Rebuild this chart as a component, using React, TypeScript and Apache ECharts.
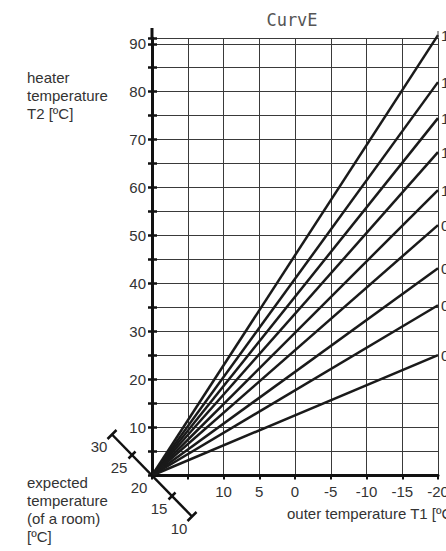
import React, { useEffect, useRef } from "react";
import * as echarts from "echarts";

// ---- data ----
const outerMin = -20;
const outerMax = 20;
const outerStep = 5;
const heaterMin = 0;
const heaterMax = 91.2;
const heaterStep = 5;
const curveNames = ["1.8", "1.6", "1.4", "1.2", "1.0", "0.8", "0.6", "0.4", "0.2"];
const curveStartT1 = 20;
const curveStartT2 = 0;
const curveEndT1 = -20;
const curveEndT2 = [91.8, 82.0, 74.5, 67.4, 59.5, 52.2, 43.2, 35.5, 25.1];
const roomTicks = [30, 25, 20, 15, 10];
const roomBase = 20;

const FONT = "'Liberation Sans', Arial, sans-serif";
const TXT = "#333333";

export default function App() {
  const ref = useRef<HTMLDivElement>(null);

  useEffect(() => {
    if (!ref.current) return;
    const chart = echarts.init(ref.current, undefined, { renderer: "svg" });

    const series = curveNames.map((name, i) => ({
      name,
      type: "line",
      data: [
        [curveStartT1, curveStartT2],
        [curveEndT1, curveEndT2[i]],
      ],
      symbol: "none",
      clip: false,
      lineStyle: { color: "#1a1a1a", width: 2.5 },
      z: 5,
    }));

    const option: any = {
      animation: false,
      backgroundColor: "#ffffff",
      grid: {
        left: 152,
        right: 8,
        top: 38,
        bottom: 75.5,
        containLabel: false,
        outerBoundsMode: "none",
      },
      xAxis: {
        type: "value",
        min: outerMin,
        max: outerMax,
        interval: outerStep,
        inverse: true,
        axisLine: { show: true, onZero: false, lineStyle: { color: "#111", width: 3 } },
        axisTick: { show: true, length: 4, lineStyle: { color: "#111", width: 2 } },
        axisLabel: {
          fontSize: 15,
          fontFamily: FONT,
          color: TXT,
          margin: 8,
          formatter: (v: number) => (v > 10 ? "" : String(v)),
        },
        splitLine: { show: true, lineStyle: { color: "#3a3a3a", width: 1 } },
      },
      yAxis: [
        {
          type: "value",
          position: "left",
          min: heaterMin,
          max: heaterMax,
          interval: heaterStep,
          axisLine: { show: true, onZero: false, lineStyle: { color: "#111", width: 3 } },
          axisTick: { show: true, length: 4, lineStyle: { color: "#111", width: 2.5 } },
          axisLabel: {
            fontSize: 15,
            fontFamily: FONT,
            color: TXT,
            margin: 6,
            formatter: (v: number) => (v > 0 && v % 10 === 0 ? String(v) : ""),
          },
          splitLine: { show: true, lineStyle: { color: "#3a3a3a", width: 1 } },
        },
        {
          type: "value",
          position: "left",
          min: heaterMin,
          max: heaterMax,
          interval: heaterStep,
          axisLine: { show: false, onZero: false },
          axisTick: { show: true, inside: true, length: 5, lineStyle: { color: "#111", width: 2.5 } },
          axisLabel: { show: false },
          splitLine: { show: false },
        },
      ],
      series,
    };

    chart.setOption(option);

    const toPx = (p: number[]) => chart.convertToPixel({ gridIndex: 0 }, p) as number[];
    const [ox, oy] = toPx([curveStartT1, curveStartT2]);
    const [rx] = toPx([outerMin, 0]);
    const [, ty] = toPx([outerMax, heaterMax]);

    const stepX = -4.0;
    const stepY = -4.1;
    const pt = (t: number) => [ox + (t - roomBase) * stepX, oy + (t - roomBase) * stepY];
    const tMax = Math.max(...roomTicks);
    const tMin = Math.min(...roomTicks);
    const [ax1, ay1] = pt(tMax);
    const [ax2, ay2] = pt(tMin);

    const graphics: any[] = [];
    // axis extensions
    graphics.push({
      type: "line",
      shape: { x1: ox, y1: ty, x2: ox, y2: ty - 10 },
      style: { stroke: "#111", lineWidth: 3 },
      z: 10,
    });
    graphics.push({
      type: "line",
      shape: { x1: rx, y1: ty, x2: rx, y2: ty - 7 },
      style: { stroke: "#3a3a3a", lineWidth: 1 },
      z: 10,
    });
    // curve labels at line ends
    curveNames.forEach((name, i) => {
      const [ex, ey] = toPx([curveEndT1, curveEndT2[i]]);
      graphics.push({
        type: "text",
        style: {
          x: ex + 3,
          y: ey,
          text: name,
          font: `15px ${FONT}`,
          fill: TXT,
          align: "left",
          verticalAlign: "middle",
        },
        z: 10,
      });
    });
    // diagonal room temperature axis
    graphics.push({
      type: "line",
      shape: { x1: ax1, y1: ay1, x2: ax2, y2: ay2 },
      style: { stroke: "#111", lineWidth: 2.5 },
      z: 10,
    });
    roomTicks.forEach((t) => {
      const [px, py] = pt(t);
      const isEnd = t === tMax || t === tMin;
      const h = isEnd ? 4.5 : 3.5;
      if (t !== roomBase) {
        graphics.push({
          type: "line",
          shape: { x1: px - h, y1: py + h, x2: px + h, y2: py - h },
          style: { stroke: "#111", lineWidth: 2.5 },
          z: 10,
        });
      }
      graphics.push({
        type: "text",
        style: {
          x: px - 13,
          y: py + 12,
          text: String(t),
          font: `15px ${FONT}`,
          fill: TXT,
          align: "center",
          verticalAlign: "middle",
        },
        z: 10,
      });
    });

    // texts
    graphics.push({
      type: "text",
      style: {
        x: 292,
        y: 20,
        text: "CurvE",
        font: `17px 'DejaVu Sans Mono', monospace`,
        fill: "#555",
        align: "center",
        verticalAlign: "middle",
      },
    });
    graphics.push({
      type: "text",
      style: {
        x: 27,
        y: 68,
        text: "heater\ntemperature\nT2 [ºC]",
        font: `15px ${FONT}`,
        lineHeight: 18,
        fill: TXT,
        align: "left",
        verticalAlign: "top",
      },
    });
    graphics.push({
      type: "text",
      style: {
        x: 27,
        y: 473,
        text: "expected\ntemperature\n(of a room)\n[ºC]",
        font: `15px ${FONT}`,
        lineHeight: 18,
        fill: TXT,
        align: "left",
        verticalAlign: "top",
      },
    });
    graphics.push({
      type: "text",
      style: {
        x: 287,
        y: 513,
        text: "outer temperature T1 [ºC]",
        font: `15px ${FONT}`,
        fill: TXT,
        align: "left",
        verticalAlign: "middle",
      },
    });

    chart.setOption({ graphic: graphics });

    return () => chart.dispose();
  }, []);

  return (
    <div
      ref={ref}
      style={{ position: "fixed", left: 0, top: 0, width: 446, height: 551, background: "#fff" }}
    />
  );
}
